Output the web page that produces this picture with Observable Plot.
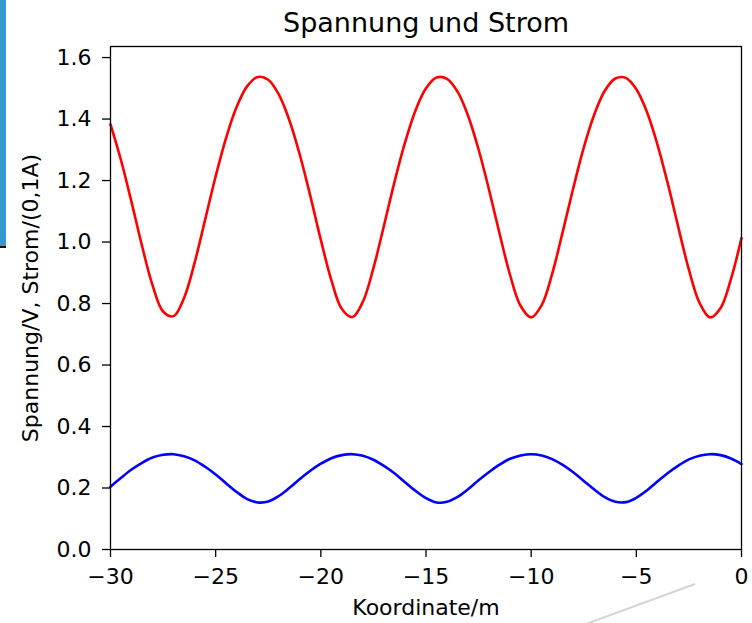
<!DOCTYPE html>
<html>
<head>
<meta charset="utf-8">
<script src="https://cdn.jsdelivr.net/npm/d3@7"></script>
<script src="https://cdn.jsdelivr.net/npm/@observablehq/plot@0.6"></script>
<style>
  body { margin: 0; background: #ffffff; }
  #wrap { position: relative; width: 752px; height: 623px; overflow: hidden; background: #ffffff; }
  #wrap svg.plot { position: absolute; left: 0; top: 0; }
  #sidebar { position: absolute; left: 0; top: 0; width: 6px; height: 246px; background: #3497cf; }
  #sideline { position: absolute; left: 0; top: 246px; width: 6px; height: 2px; background: #111; }
  #deco { position: absolute; left: 0; top: 0; pointer-events: none; }
</style>
</head>
<body>
<div id="wrap">
  <div id="sidebar"></div>
  <div id="sideline"></div>
</div>
<script>
// ---- data ----
const title = "Spannung und Strom";
const xLabel = "Koordinate/m";
const yLabel = "Spannung/V, Strom/(0,1A)";
const xTicks = [-30, -25, -20, -15, -10, -5, 0];
const yTicks = [0, 0.2, 0.4, 0.6, 0.8, 1.0, 1.2, 1.4, 1.6];

const koordinate = [-30,-29.5,-29,-28.5,-28,-27.5,-27,-26.5,-26,-25.5,-25,-24.5,-24,-23.5,-23,-22.5,-22,-21.5,-21,-20.5,-20,-19.5,-19,-18.5,-18,-17.5,-17,-16.5,-16,-15.5,-15,-14.5,-14,-13.5,-13,-12.5,-12,-11.5,-11,-10.5,-10,-9.5,-9,-8.5,-8,-7.5,-7,-6.5,-6,-5.5,-5,-4.5,-4,-3.5,-3,-2.5,-2,-1.5,-1,-0.5,0];

const spannung = [1.383,1.266,1.130,0.987,0.859,0.774,0.759,0.819,0.933,1.073,1.214,1.340,1.440,1.507,1.537,1.528,1.480,1.397,1.284,1.150,1.007,0.876,0.782,0.756,0.806,0.915,1.053,1.195,1.323,1.428,1.500,1.535,1.531,1.489,1.411,1.301,1.169,1.027,0.892,0.792,0.755,0.795,0.897,1.033,1.175,1.307,1.415,1.492,1.532,1.534,1.497,1.424,1.318,1.189,1.047,0.910,0.803,0.755,0.785,0.880,1.013];

const strom = [0.204,0.233,0.260,0.282,0.299,0.308,0.310,0.303,0.290,0.269,0.244,0.215,0.187,0.164,0.153,0.156,0.174,0.200,0.229,0.256,0.279,0.297,0.307,0.310,0.305,0.292,0.272,0.248,0.219,0.191,0.167,0.153,0.155,0.171,0.196,0.225,0.252,0.276,0.295,0.306,0.310,0.306,0.294,0.275,0.251,0.223,0.195,0.170,0.155,0.154,0.168,0.192,0.221,0.249,0.273,0.293,0.305,0.310,0.307,0.296,0.278];

// ---- table built from the arrays ----
const rows = koordinate.map((x, k) => ({x, spannung: spannung[k], strom: strom[k]}));

const chart = Plot.plot({
  width: 752,
  height: 623,
  marginLeft: 110,
  marginRight: 11,
  marginTop: 46,
  marginBottom: 74,
  style: {fontFamily: "'DejaVu Sans', sans-serif", background: "transparent", color: "black", overflow: "visible"},
  x: {domain: [-30, 0]},
  y: {domain: [0, 1.636]},
  marks: [
    Plot.lineY(rows, {x: "x", y: "spannung", stroke: "#ff0000", strokeWidth: 2.6, curve: "catmull-rom"}),
    Plot.lineY(rows, {x: "x", y: "strom", stroke: "#0000ff", strokeWidth: 2.6, curve: "catmull-rom"}),
    Plot.frame({stroke: "black", strokeWidth: 1.3}),
    Plot.axisX({ticks: xTicks, tickSize: 8, tickPadding: 11, fontSize: 22, strokeWidth: 1.3,
      label: xLabel, labelAnchor: "center", labelArrow: "none", labelOffset: 65}),
    Plot.axisY({ticks: yTicks, tickFormat: d3.format(".1f"), tickSize: 8, tickPadding: 11, fontSize: 22, strokeWidth: 1.3,
      label: yLabel, labelAnchor: "center", labelArrow: "none", labelOffset: 88}),
    Plot.text([title], {text: d => d, frameAnchor: "top", dy: -15, lineAnchor: "bottom", fontSize: 27, fill: "black"})
  ]
});
chart.classList.add("plot");
document.getElementById("wrap").appendChild(chart);

// screenshot artefact: light grey diagonal stroke at the bottom right
const deco = d3.select("#wrap").append("svg").attr("id", "deco").attr("width", 752).attr("height", 623);
deco.append("line").attr("x1", 695).attr("y1", 584).attr("x2", 586).attr("y2", 624)
  .attr("stroke", "#d4d4d4").attr("stroke-width", 2);
</script>
</body>
</html>
